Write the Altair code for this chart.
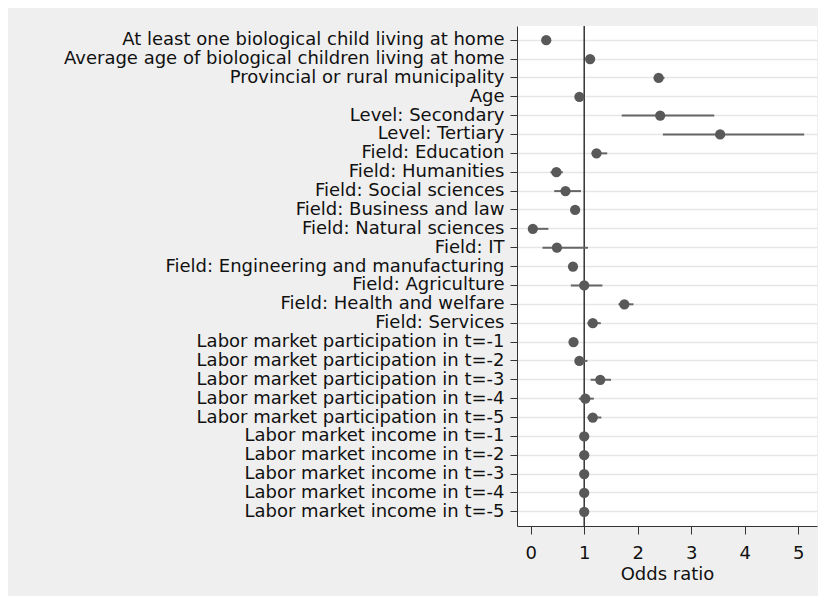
import altair as alt
import pandas as pd

labels = [
    "At least one biological child living at home",
    "Average age of biological children living at home",
    "Provincial or rural municipality",
    "Age",
    "Level: Secondary",
    "Level: Tertiary",
    "Field: Education",
    "Field: Humanities",
    "Field: Social sciences",
    "Field: Business and law",
    "Field: Natural sciences",
    "Field: IT",
    "Field: Engineering and manufacturing",
    "Field: Agriculture",
    "Field: Health and welfare",
    "Field: Services",
    "Labor market participation in t=-1",
    "Labor market participation in t=-2",
    "Labor market participation in t=-3",
    "Labor market participation in t=-4",
    "Labor market participation in t=-5",
    "Labor market income in t=-1",
    "Labor market income in t=-2",
    "Labor market income in t=-3",
    "Labor market income in t=-4",
    "Labor market income in t=-5",
]
odds = [0.29, 1.11, 2.39, 0.91, 2.42, 3.54, 1.23, 0.48, 0.65, 0.83, 0.04, 0.49,
        0.79, 1.00, 1.75, 1.16, 0.80, 0.91, 1.30, 1.02, 1.16, 1.00, 1.00, 1.00,
        1.00, 1.00]
lower = [0.24, 1.07, 2.30, 0.88, 1.70, 2.47, 1.14, 0.37, 0.44, 0.78, 0.00, 0.22,
         0.75, 0.75, 1.64, 1.06, 0.76, 0.85, 1.12, 0.90, 1.06, 0.99, 0.99, 0.99,
         0.99, 0.99]
upper = [0.34, 1.15, 2.50, 0.94, 3.43, 5.11, 1.43, 0.60, 0.94, 0.88, 0.33, 1.07,
         0.83, 1.34, 1.92, 1.31, 0.84, 1.06, 1.50, 1.18, 1.32, 1.01, 1.01, 1.01,
         1.01, 1.01]
ref_value = [1]
x_ticks = [0, 1, 2, 3, 4, 5]

df = pd.DataFrame({"label": labels, "odds": odds, "lower": lower, "upper": upper})
ref = pd.DataFrame({"ref": ref_value})

FONT = "DejaVu Sans"
FS = 18

y_enc = alt.Y(
    "label:N",
    sort=labels,
    title=None,
    scale=alt.Scale(padding=0.5),
    axis=alt.Axis(
        grid=True,
        gridColor="#e6e6e6",
        gridWidth=1.6,
        tickSize=7,
        tickColor="#333333",
        domainColor="#333333",
        labelPadding=6,
        labelLimit=600,
        labelFont=FONT,
        labelFontSize=FS,
        labelColor="#111111",
    ),
)
x_scale = alt.Scale(domain=[-0.256, 5.35], nice=False, zero=False)
x_axis = alt.Axis(
    values=x_ticks,
    grid=False,
    tickSize=8,
    tickColor="#333333",
    domainColor="#333333",
    labelPadding=10,
    labelFont=FONT,
    labelFontSize=FS,
    labelColor="#111111",
    title="Odds ratio",
    titleFont=FONT,
    titleFontSize=FS,
    titleFontWeight="normal",
    titleColor="#111111",
    titlePadding=3,
)

rule_ref = alt.Chart(ref).mark_rule(color="#333333", strokeWidth=1.5).encode(
    x=alt.X("ref:Q", scale=x_scale, axis=x_axis)
)
ci = alt.Chart(df).mark_rule(color="#666666", strokeWidth=2).encode(
    x=alt.X("lower:Q", scale=x_scale, axis=x_axis),
    x2="upper:Q",
    y=y_enc,
)
pts = alt.Chart(df).mark_point(filled=True, size=105, color="#595959", opacity=1).encode(
    x=alt.X("odds:Q", scale=x_scale, axis=x_axis),
    y=y_enc,
)

chart = (
    alt.layer(rule_ref, ci, pts)
    .properties(
        width=300,
        height=500,
        autosize=alt.AutoSizeParams(type="none"),
        padding={"left": 509, "top": 18, "right": 1, "bottom": 70},
        background="#efefef",
    )
    .configure_view(fill="white", stroke=None)
)

chart.save("out.html", embed_options={"renderer": "svg", "actions": False})
